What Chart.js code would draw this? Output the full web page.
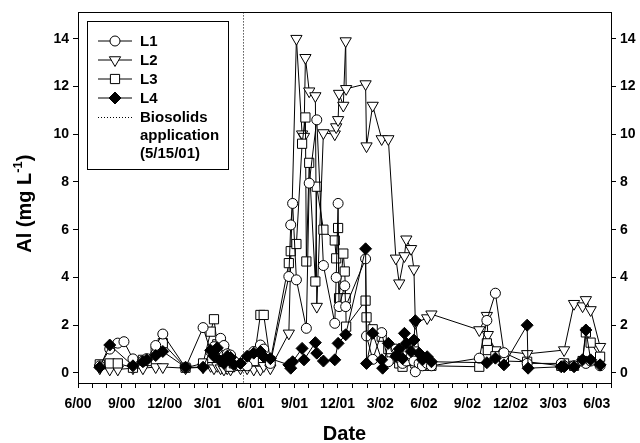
<!DOCTYPE html>
<html>
<head>
<meta charset="utf-8">
<script src="https://cdn.jsdelivr.net/npm/chart.js@4.4.1/dist/chart.umd.min.js"></script>
<style>
  html, body { margin: 0; padding: 0; background: #fff; }
  #wrap { width: 640px; height: 443px; }
</style>
</head>
<body>
<div id="wrap"><canvas id="alChart"></canvas></div>
<script>
// Sampling dates and Al (mg/L) for each lysimeter (null = not sampled)
const dates = [
  "2000-07-17", "2000-08-07", "2000-08-24", "2000-09-06", "2000-09-25", "2000-10-16",
  "2000-10-24", "2000-11-12", "2000-11-27", "2001-01-14", "2001-02-20", "2001-03-08",
  "2001-03-15", "2001-03-22", "2001-03-29", "2001-04-05", "2001-04-12", "2001-04-19",
  "2001-04-26", "2001-05-10", "2001-05-24", "2001-06-07", "2001-06-21", "2001-06-28",
  "2001-07-12", "2001-08-20", "2001-08-24", "2001-08-28", "2001-09-05", "2001-09-17",
  "2001-09-21", "2001-09-24", "2001-09-26", "2001-10-02", "2001-10-15", "2001-10-18",
  "2001-11-01", "2001-11-25", "2001-11-28", "2001-12-02", "2001-12-04", "2001-12-13",
  "2001-12-16", "2001-12-18", "2001-12-19", "2002-01-29", "2002-01-31", "2002-02-13",
  "2002-03-04", "2002-03-06", "2002-03-18", "2002-04-03", "2002-04-10", "2002-04-17",
  "2002-04-21", "2002-04-25", "2002-05-05", "2002-05-11", "2002-05-14", "2002-05-22",
  "2002-05-29", "2002-06-08", "2002-06-17", "2002-09-26", "2002-10-12", "2002-10-14",
  "2002-10-30", "2002-11-17", "2003-01-05", "2003-01-07", "2003-03-18", "2003-03-24",
  "2003-04-14", "2003-05-02", "2003-05-09", "2003-05-19", "2003-06-08"
];
const l1 = [
  0.3, 1.0, 1.25, 1.31, 0.59, 0.5, 0.6, 1.15, 1.63, 0.22, 1.9, 0.9,
  1.1, 1.0, 1.45, 1.15, 0.8, 0.75, 0.5, 0.3, 0.3, 0.9, 1.17, 1.0,
  0.4, 4.04, 6.2, 7.1, 3.9, null, null, null, 1.87, 7.95, null, 10.6,
  4.5, 2.08, 4.0, 7.1, 2.78, null, 3.65, 2.78, null, 4.78, 1.55, 0.57,
  1.69, null, 0.47, 1.0, 0.6, 0.4, 0.9, 0.5, 0.7, 0.5, 0.05, 0.4,
  0.3, 0.4, 0.3, 0.62, 2.2, null, 3.34, 0.85, 0.4, null, 0.4, 0.3,
  0.3, 0.5, 0.4, 0.5, 0.3
];
const l2 = [
  0.2, 0.15, 0.15, null, 0.2, 0.2, null, 0.25, 0.25, 0.2, 0.24, 0.3,
  0.2, 0.3, 0.2, 0.15, 0.2, 0.15, 0.3, 0.2, 0.2, 0.15, 0.15, 0.3,
  0.2, 1.66, null, null, 14.0, 10.0, 9.9, 13.2, null, 11.8, 11.6, 2.78,
  10.05, 10.0, 10.3, 10.6, 11.7, 11.2, null, 13.9, 11.9, 12.1, 9.5, 11.2,
  9.8, null, 9.8, 4.8, 3.76, null, 4.9, 5.6, 5.2, 4.35, 2.1, null,
  null, 2.3, 2.46, 1.8, 2.4, 1.6, 0.96, null, 0.8, null, null, 0.96,
  2.9, 2.8, 3.06, 2.64, 1.1
];
const l3 = [
  0.36, 0.4, 0.4, null, 0.22, 0.55, 0.5, 0.9, 1.25, 0.22, 0.4, 1.73,
  2.25, 1.2, 1.3, 0.9, 0.6, 0.26, 0.4, 0.3, 0.47, 0.5, 2.43, 2.43,
  0.5, 4.6, 5.1, null, 5.4, 9.6, null, 10.7, 4.67, 8.8, 3.83, 7.8,
  6.0, 5.55, 4.8, 6.07, 3.13, 5.0, 4.25, 3.13, 1.94, 3.03, 2.33, 1.83,
  1.52, null, 1.0, 0.6, 0.4, 0.26, 0.5, 0.6, 0.5, 0.9, 0.4, 0.5,
  0.6, 0.3, 0.3, 0.26, 1.24, 0.96, 0.7, 0.5, 0.47, null, 0.3, 0.4,
  0.3, 0.5, 1.7, 1.27, 0.68
];
const l4 = [
  0.24, 1.17, null, null, 0.3, 0.47, 0.55, 0.73, 0.9, 0.24, 0.24, 0.95,
  0.7, 1.05, 0.5, 0.4, 0.7, 0.65, 0.35, 0.4, 0.7, 0.83, 0.9, 0.68,
  0.6, 0.34, 0.2, 0.47, null, 1.03, 0.55, null, null, null, 1.27, 0.83,
  0.5, 0.55, null, 1.24, null, null, null, 1.6, null, 5.2, 0.4, 1.66,
  0.55, 0.2, 1.24, 0.7, 1.0, 0.6, 1.66, 1.24, 0.9, 1.38, 2.19, 0.83,
  0.55, 0.68, 0.47, null, 0.43, null, 0.62, 0.34, 2.0, 0.2, 0.26, 0.26,
  0.26, 0.55, 1.8, 0.55, 0.34
];

const applicationDate = "2001-05-15";
const startDate = "2000-06-01";
const endDate = "2003-07-01";
const xTickLabels = ["6/00", "9/00", "12/00", "3/01", "6/01", "9/01", "12/01",
                     "3/02", "6/02", "9/02", "12/02", "3/03", "6/03"];
const yTicks = [0, 2, 4, 6, 8, 10, 12, 14];

const FONT = "'Liberation Sans', Arial, sans-serif";
const day0 = Date.parse(startDate);
const toDay = s => (Date.parse(s) - day0) / 86400000;
const xs = dates.map(toDay);
const points = vals => vals.map((v, i) => (v === null ? null : { x: xs[i], y: v })).filter(p => p);

// month ticks (minor) and quarterly labels (major)
const labelByDay = {};
xTickLabels.forEach(t => {
  const [m, yy] = t.split("/");
  labelByDay[toDay(`20${yy}-${m.padStart(2, "0")}-01`)] = t;
});
const monthTicks = [];
for (let d = new Date(day0); d.getTime() <= Date.parse(endDate); d.setUTCMonth(d.getUTCMonth() + 1)) {
  monthTicks.push(toDay(d.toISOString().slice(0, 10)));
}

const series = [
  { label: "L1", data: l1, style: "circle", radius: 5, fill: "#fff", rot: 0 },
  { label: "L2", data: l2, style: "triangle", radius: 6.5, fill: "#fff", rot: 180 },
  { label: "L3", data: l3, style: "rect", radius: 6.5, fill: "#fff", rot: 0 },
  { label: "L4", data: l4, style: "rectRot", radius: 6, fill: "#000", rot: 0 }
];
const drawOrder = { L1: 1, L2: 3, L3: 2, L4: 0 };

const yScale = (pos, width) => ({
  type: "linear",
  position: pos,
  min: -0.42,
  max: 15.1,
  afterBuildTicks: s => { s.ticks = yTicks.map(v => ({ value: v })); },
  afterFit: s => { s.width = width; },
  grid: { drawOnChartArea: false, color: "#000", tickLength: 5 },
  border: { color: "#000", width: 1 },
  ticks: { color: "#000", padding: 4, font: { family: FONT, size: 14, weight: "bold" } }
});

// frame, application line, legend and axis titles
const decor = {
  id: "decor",
  beforeDatasetsDraw(chart) {
    const { ctx, chartArea: a, scales } = chart;
    const xa = scales.x.getPixelForValue(toDay(applicationDate));
    ctx.save();
    ctx.strokeStyle = "#000";
    ctx.lineWidth = 1;
    ctx.setLineDash([1, 2]);
    ctx.beginPath();
    ctx.moveTo(Math.round(xa) + 0.5, a.top);
    ctx.lineTo(Math.round(xa) + 0.5, a.bottom);
    ctx.stroke();
    ctx.restore();
  },
  afterDraw(chart) {
    const { ctx, chartArea: a } = chart;
    ctx.save();
    ctx.strokeStyle = "#000";
    ctx.lineWidth = 1;
    ctx.strokeRect(Math.round(a.left) + 0.5, Math.round(a.top) + 0.5,
                   Math.round(a.right - a.left), Math.round(a.bottom - a.top));

    // legend
    const bx = 87, by = 21;
    ctx.fillStyle = "#fff";
    ctx.fillRect(bx, by, 141, 148);
    ctx.strokeRect(bx + 0.5, by + 0.5, 141, 148);
    ctx.font = `bold 15px ${FONT}`;
    ctx.textBaseline = "middle";
    series.forEach((s, i) => {
      const y = by + 20 + i * 19;
      ctx.strokeStyle = "#000";
      ctx.setLineDash([]);
      ctx.beginPath();
      ctx.moveTo(bx + 11, y);
      ctx.lineTo(bx + 45, y);
      ctx.stroke();
      ctx.fillStyle = s.fill;
      Chart.helpers.drawPoint(ctx, { pointStyle: s.style, radius: s.radius, rotation: s.rot, borderWidth: 1 }, bx + 28, y);
      ctx.fillStyle = "#000";
      ctx.fillText(s.label, bx + 53, y + 1);
    });
    const yb = by + 20 + 4 * 19;
    ctx.setLineDash([1, 2]);
    ctx.beginPath();
    ctx.moveTo(bx + 11, yb + 0.5);
    ctx.lineTo(bx + 45, yb + 0.5);
    ctx.stroke();
    ctx.setLineDash([]);
    ctx.fillStyle = "#000";
    ["Biosolids", "application", "(5/15/01)"].forEach((t, i) => ctx.fillText(t, bx + 53, yb + 1 + i * 18));

    // x title
    ctx.font = `bold 20px ${FONT}`;
    ctx.textAlign = "center";
    ctx.textBaseline = "alphabetic";
    ctx.fillText("Date", (a.left + a.right) / 2, 440);

    // y title with superscript
    ctx.translate(25, (a.top + a.bottom) / 2 + 6);
    ctx.rotate(-Math.PI / 2);
    ctx.textAlign = "left";
    ctx.textBaseline = "middle";
    const big = `bold 20px ${FONT}`, small = `bold 13px ${FONT}`;
    ctx.font = big;
    const w1 = ctx.measureText("Al (mg L").width, w3 = ctx.measureText(")").width;
    ctx.font = small;
    const w2 = ctx.measureText("-1").width;
    let x = -(w1 + w2 + w3) / 2;
    ctx.font = big;
    ctx.fillText("Al (mg L", x, 0);
    x += w1;
    ctx.font = small;
    ctx.fillText("-1", x, -7);
    x += w2;
    ctx.font = big;
    ctx.fillText(")", x, 0);
    ctx.restore();
  }
};

new Chart(document.getElementById("alChart"), {
  type: "line",
  data: {
    datasets: series.map(s => ({
      label: s.label,
      data: points(s.data),
      borderColor: "#000",
      borderWidth: 1,
      tension: 0,
      pointStyle: s.style,
      pointRotation: s.rot,
      pointRadius: s.radius,
      pointBackgroundColor: s.fill,
      pointBorderColor: "#000",
      pointBorderWidth: 1,
      order: drawOrder[s.label]
    }))
  },
  options: {
    responsive: true,
    maintainAspectRatio: false,
    animation: false,
    layout: { padding: { top: 12, left: 0, right: 0, bottom: 0 } },
    plugins: { legend: { display: false }, tooltip: { enabled: false } },
    scales: {
      x: {
        type: "linear",
        min: 0,
        max: toDay(endDate),
        afterBuildTicks: s => { s.ticks = monthTicks.map(v => ({ value: v })); },
        afterFit: s => { s.height = 60; },
        grid: { drawOnChartArea: false, color: "#000", tickLength: 5 },
        border: { color: "#000", width: 1 },
        ticks: {
          autoSkip: false,
          maxRotation: 0,
          color: "#000",
          padding: 8,
          font: { family: FONT, size: 14, weight: "bold" },
          callback: v => labelByDay[v] || ""
        }
      },
      y: yScale("left", 78),
      y2: yScale("right", 29)
    }
  },
  plugins: [decor]
});
</script>
</body>
</html>
